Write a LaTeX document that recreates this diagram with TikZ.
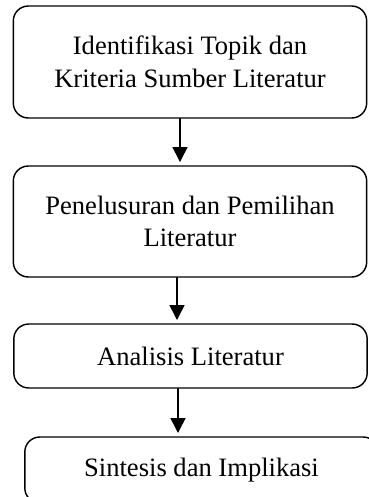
\documentclass[tikz,border=0pt]{standalone}
\usepackage{fontspec}
\setmainfont{Liberation Serif}
\usetikzlibrary{arrows.meta}

\begin{document}
\begin{tikzpicture}[x=0.016cm,y=-0.016cm,line cap=round,line join=round,
  stepbox/.style={draw,line width=0.65pt,rounded corners=6.8pt,
    minimum width=5.656cm,align=center,inner sep=0pt,
    font=\fontsize{12.1}{14.8}\selectfont},
  flow/.style={line width=0.7pt,-{Triangle[width=6.8pt,length=6.8pt]},shorten >=1.5pt}]
  \clip (0,0) rectangle (369,497);
  \node[stepbox,minimum height=1.792cm] (ident) at (190,62)
    {Identifikasi Topik dan\\Kriteria Sumber Literatur};
  \node[stepbox,minimum height=1.776cm] (pilih) at (190,221.5)
    {Penelusuran dan Pemilihan\\Literatur};
  \node[stepbox,minimum height=1.024cm] (analisis) at (190.5,356)
    {Analisis Literatur};
  \node[stepbox,minimum height=1.056cm] (sintesis) at (201.5,470)
    {Sintesis dan Implikasi};
  % panah antar tahap
  \draw[flow] ([xshift=-0.16cm]ident.south) coordinate (a1) -- (a1 |- pilih.north);
  \draw[flow] ([xshift=-0.208cm]pilih.south) coordinate (a2) -- (a2 |- analisis.north);
  \draw[flow] ([xshift=-0.2cm]analisis.south) coordinate (a3) -- (a3 |- sintesis.north);
\end{tikzpicture}
\end{document}
